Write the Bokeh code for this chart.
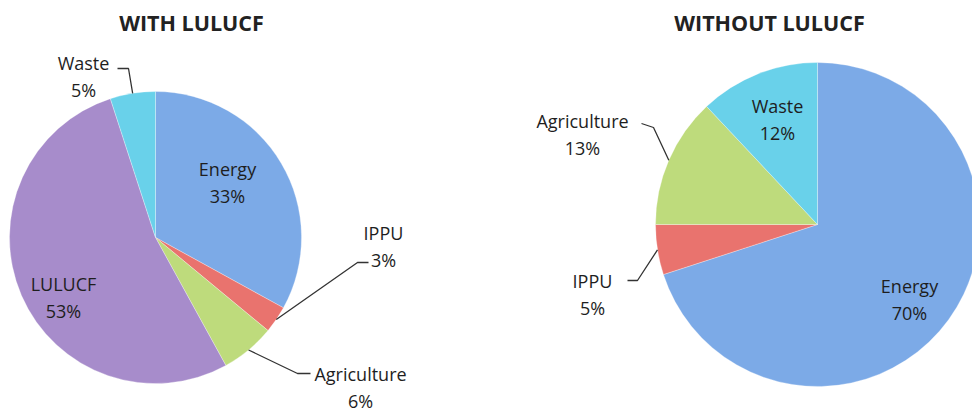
import math
from bokeh.plotting import figure
from bokeh.models import Range1d, ColumnDataSource
from bokeh.core.properties import value
from bokeh.embed import file_html
from bokeh.resources import INLINE

# ---------------- data ----------------
with_cats = ["Energy", "IPPU", "Agriculture", "LULUCF", "Waste"]
with_vals = [33, 3, 6, 53, 5]
without_cats = ["Energy", "IPPU", "Agriculture", "Waste"]
without_vals = [70, 5, 13, 12]
titles = ["WITH LULUCF", "WITHOUT LULUCF"]

# ---------------- style / layout ----------------
W, H = 972, 411
colors = {
    "Energy": "#7CAAE7",
    "IPPU": "#E9736E",
    "Agriculture": "#BEDB7C",
    "LULUCF": "#A78CCB",
    "Waste": "#69D1EA",
}
FONT = "Open Sans"
TXT = "#1e1e1e"
LABEL_SIZE = "18px"
TITLE_SIZE = "21.5px"

# pie centre (pixel, y down), radius
pies = [
    dict(cx=155, cy=237, r=146, title_x=191),
    dict(cx=817, cy=224, r=162, title_x=769),
]
# label layout: category -> (label x, label y of first line, elbow points or None)
left_labels = {
    "Energy": (227, 168, None),
    "IPPU": (383, 232, [(368, 262), (357, 262)]),
    "Agriculture": (360, 373, [(310, 373), (297, 373)]),
    "LULUCF": (63, 283, None),
    "Waste": (83, 62, [(117, 68), (128, 68)]),
}
right_labels = {
    "Energy": (909, 285, None),
    "IPPU": (592, 280, [(627, 280), (637, 280)]),
    "Agriculture": (582, 120, [(641, 123), (653, 127)]),
    "Waste": (777, 105, None),
}
LINE_GAP = 27

p = figure(width=W, height=H, output_backend="svg", toolbar_location=None,
           x_range=Range1d(0, W), y_range=Range1d(0, H), min_border=0)
p.axis.visible = False
p.grid.visible = False
p.outline_line_color = None
p.background_fill_color = "white"
p.border_fill_color = "white"


def Y(ypix):
    return H - ypix


def draw_pie(cats, vals, pie, labels, title):
    total = float(sum(vals))
    starts, ends, cols, mids = [], [], [], []
    cum = 0.0
    for c, v in zip(cats, vals):
        f0 = cum / total
        cum += v
        f1 = cum / total
        # clockwise from 12 o'clock
        starts.append(math.pi / 2 - 2 * math.pi * f1)
        ends.append(math.pi / 2 - 2 * math.pi * f0)
        cols.append(colors[c])
        mids.append((f0 + f1) / 2)
    src = ColumnDataSource(dict(x=[pie["cx"]] * len(cats), y=[Y(pie["cy"])] * len(cats),
                                start=starts, end=ends, color=cols, cat=cats))
    p.wedge(x="x", y="y", radius=pie["r"], radius_units="screen",
            start_angle="start", end_angle="end", direction="anticlock",
            fill_color="color", line_color="white", line_width=0.5, line_alpha=0.6,
            source=src)
    for c, v, m in zip(cats, vals, mids):
        lx, ly, elbow = labels[c]
        p.text(x=[lx], y=[Y(ly)], text=[c], text_align="center", text_baseline="middle",
               text_font=value(FONT), text_font_size=LABEL_SIZE, text_color=TXT)
        p.text(x=[lx], y=[Y(ly + LINE_GAP)], text=[f"{v}%"], text_align="center",
               text_baseline="middle", text_font=value(FONT), text_font_size=LABEL_SIZE,
               text_color=TXT)
        if elbow:
            th = 2 * math.pi * m
            ax = pie["cx"] + pie["r"] * math.sin(th)
            ay = pie["cy"] - pie["r"] * math.cos(th)
            xs = [e[0] for e in elbow] + [ax]
            ys = [Y(e[1]) for e in elbow] + [Y(ay)]
            p.line(xs, ys, line_color="#333333", line_width=1.3)
    p.text(x=[pie["title_x"]], y=[Y(22)], text=[title], text_align="center",
           text_baseline="middle", text_font=value(FONT), text_font_size=TITLE_SIZE,
           text_font_style="bold", text_color="#222222")


draw_pie(with_cats, with_vals, pies[0], left_labels, titles[0])
draw_pie(without_cats, without_vals, pies[1], right_labels, titles[1])

open("out.html", "w").write(file_html(p, INLINE))
